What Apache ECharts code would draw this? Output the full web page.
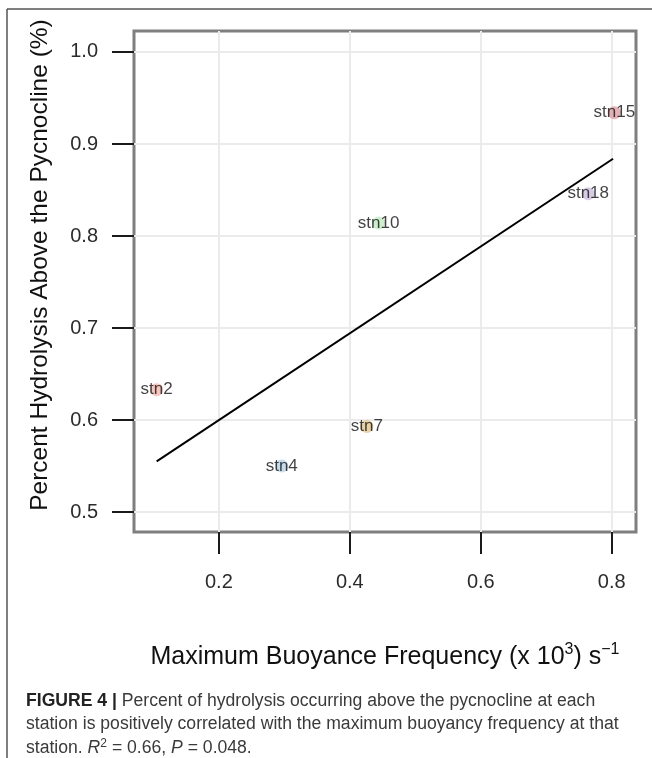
<!DOCTYPE html>
<html>
<head>
<meta charset="utf-8">
<script src="https://cdn.jsdelivr.net/npm/echarts@6/dist/echarts.min.js"></script>
<style>
html,body{margin:0;padding:0;background:#fff;}
#c{width:652px;height:758px;}
</style>
</head>
<body>
<div id="c"></div>
<script>
// ---- data ----
const stations = ['stn2', 'stn4', 'stn7', 'stn10', 'stn15', 'stn18'];
const buoyancy = [0.105, 0.296, 0.426, 0.444, 0.804, 0.764];
const hydrolysis = [0.633, 0.550, 0.593, 0.814, 0.934, 0.846];
const pointColors = ['#F5B8AF', '#B8D3E9', '#E2C68F', '#C0EBC0', '#DF9FA5', '#CEBFDD'];
const fitX = [0.105, 0.802];
const fitY = [0.555, 0.884];
const xTicks = [0.2, 0.4, 0.6, 0.8];
const yTicks = [0.5, 0.6, 0.7, 0.8, 0.9, 1.0];

const FONT = 'Liberation Sans, Arial, Helvetica, sans-serif';
const chart = echarts.init(document.getElementById('c'), null, {renderer: 'canvas'});

const pts = stations.map((s, i) => ({
  value: [buoyancy[i], hydrolysis[i]],
  name: s,
  itemStyle: {color: pointColors[i]}
}));
const fit = fitX.map((x, i) => [x, fitY[i]]);

const option = {
  backgroundColor: '#fff',
  animation: false,
  grid: {
    left: 134, top: 31, width: 502, height: 501,
    show: true, borderColor: '#7f7f7f', borderWidth: 3, backgroundColor: 'transparent'
  },
  xAxis: {
    type: 'value', min: 0.0704, max: 0.837,
    axisLine: {show: false},
    axisTick: {show: true, length: 22, customValues: xTicks, lineStyle: {color: '#1a1a1a', width: 2}},
    axisLabel: {customValues: xTicks, margin: 40, fontSize: 20, color: '#2b2b2b', fontFamily: FONT,
      formatter: v => v.toFixed(1)},
    splitLine: {show: true, lineStyle: {color: '#ebebeb', width: 2}}
  },
  yAxis: {
    type: 'value', min: 0.4783, max: 1.0228,
    axisLine: {show: false},
    axisTick: {show: true, length: 22, customValues: yTicks, lineStyle: {color: '#1a1a1a', width: 2}},
    axisLabel: {customValues: yTicks, margin: 36, fontSize: 20, color: '#2b2b2b', fontFamily: FONT,
      formatter: v => v.toFixed(1)},
    splitLine: {show: true, lineStyle: {color: '#ebebeb', width: 2}}
  },
  series: [
    {
      type: 'line', data: fit, showSymbol: false, symbol: 'none',
      lineStyle: {color: '#000', width: 2}, z: 2
    },
    {
      type: 'scatter', data: pts, symbolSize: 13, z: 3,
      label: {show: true, position: 'inside', formatter: p => p.name,
        fontSize: 17, color: '#111', fontFamily: FONT}
    }
  ],
  graphic: [
    {type: 'line', shape: {x1: 7, y1: 9, x2: 652, y2: 9}, style: {stroke: '#555', lineWidth: 1.5}},
    {type: 'line', shape: {x1: 7, y1: 9, x2: 7, y2: 758}, style: {stroke: '#555', lineWidth: 1.5}},
    {
      type: 'text', x: 40, y: 265, rotation: Math.PI / 2, z: 10,
      style: {
        text: 'Percent Hydrolysis Above the Pycnocline (%)',
        font: '24.5px ' + FONT, fill: '#111', align: 'center', verticalAlign: 'middle'
      }
    },
    {
      type: 'text', x: 385, y: 657, z: 10,
      style: {
        text: 'Maximum Buoyance Frequency (x 10{sup|3}) s{sup|\u22121}',
        font: '25px ' + FONT, fill: '#111', align: 'center', verticalAlign: 'middle',
        rich: {sup: {fontSize: 16, fill: '#111', fontFamily: FONT, padding: [0, 0, 14, 0]}}
      }
    },
    {
      type: 'text', left: 26, top: 689, z: 10,
      style: {
        text: '{b|FIGURE 4 |} Percent of hydrolysis occurring above the pycnocline at each\nstation is positively correlated with the maximum buoyancy frequency at that\nstation. {i|R}{sup|2} {t|= 0.66,} {i|P} {t|= 0.048.}',
        font: '17.6px ' + FONT, fill: '#3a3a3a', lineHeight: 23.5,
        rich: {
          b: {fontWeight: 'bold', fontSize: 17.6, fill: '#222', fontFamily: FONT, lineHeight: 23.5},
          i: {fontStyle: 'italic', fontSize: 17.6, fill: '#3a3a3a', fontFamily: FONT, lineHeight: 23.5},
          t: {fontSize: 17.6, fill: '#3a3a3a', fontFamily: FONT, lineHeight: 23.5},
          sup: {fontSize: 12, fill: '#3a3a3a', fontFamily: FONT, lineHeight: 23.5, padding: [0, 0, 9, 0]}
        }
      }
    }
  ]
};
chart.setOption(option);
</script>
</body>
</html>
